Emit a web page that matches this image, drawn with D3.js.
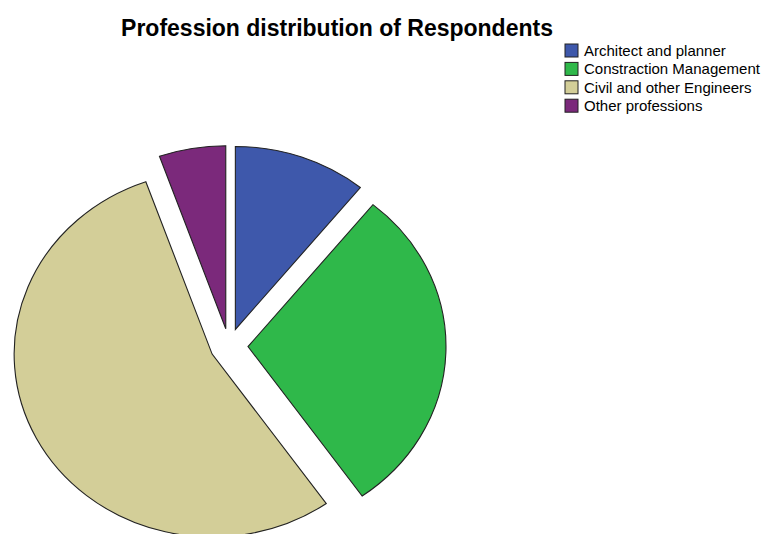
<!DOCTYPE html>
<html>
<head>
<meta charset="utf-8">
<script src="https://cdn.jsdelivr.net/npm/d3@7"></script>
<style>
  body { margin: 0; background: #fff; }
  svg { display: block; }
</style>
</head>
<body>
<div id="chart"></div>
<script>
const categories = ["Architect and planner", "Constraction Management", "Civil and other Engineers", "Other professions"];
const counts = [10, 27, 50, 5];
const colors = ["#3e58ab", "#2fb84a", "#d3ce98", "#7b297b"];
const title = "Profession distribution of Respondents";

const width = 764, height = 534;
const center = { x: 229, y: 346 };
const radius = 198;
const squash = 0.924;   // picture is a bit flatter than wide
const explode = 19;

const svg = d3.select("#chart").append("svg")
    .attr("width", width)
    .attr("height", height);

svg.append("text")
    .attr("x", 337)
    .attr("y", 36)
    .attr("text-anchor", "middle")
    .attr("font-family", "Liberation Sans, Arial, sans-serif")
    .attr("font-weight", "bold")
    .attr("font-size", 23)
    .attr("fill", "#000")
    .text(title);

const pie = d3.pie().sort(null).value(d => d);
const arc = d3.arc().innerRadius(0).outerRadius(radius);
const slices = pie(counts);

const g = svg.append("g")
    .attr("transform", `translate(${center.x}, ${center.y}) scale(1, ${squash})`);

g.selectAll("path")
    .data(slices)
    .join("path")
    .attr("transform", d => {
        let mid = (d.startAngle + d.endAngle) / 2;
        return `translate(${explode * Math.sin(mid)}, ${-explode * Math.cos(mid)})`;
    })
    .attr("d", arc)
    .attr("fill", (d, i) => colors[i])
    .attr("stroke", "#222")
    .attr("stroke-width", 1.1)
    .attr("vector-effect", "non-scaling-stroke")
    .attr("stroke-linejoin", "miter");

// legend
const legend = svg.append("g").attr("transform", "translate(565, 44)");
const rowH = 18.4;
const rows = legend.selectAll("g")
    .data(categories)
    .join("g")
    .attr("transform", (d, i) => `translate(0, ${i * rowH})`);

rows.append("rect")
    .attr("width", 13)
    .attr("height", 13)
    .attr("fill", (d, i) => colors[i])
    .attr("stroke", "#222")
    .attr("stroke-width", 1);

rows.append("text")
    .attr("x", 19)
    .attr("y", 12)
    .attr("font-family", "Liberation Sans, Arial, sans-serif")
    .attr("font-size", 15)
    .attr("fill", "#000")
    .text(d => d);
</script>
</body>
</html>
